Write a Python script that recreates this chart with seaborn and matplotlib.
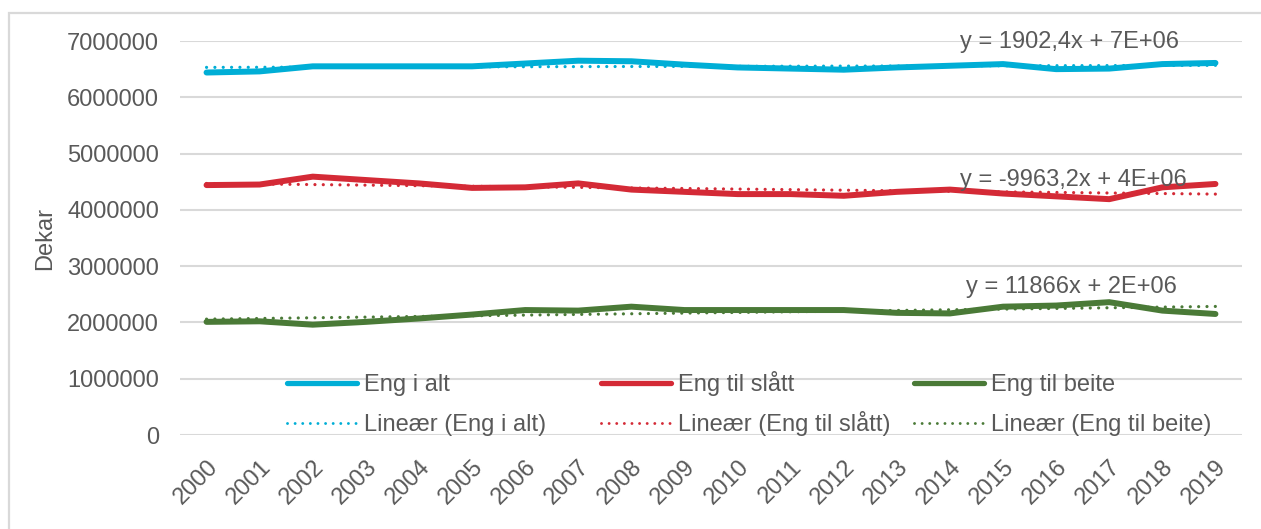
import numpy as np
import pandas as pd
import matplotlib
matplotlib.use("Agg")
import matplotlib.pyplot as plt
from matplotlib.lines import Line2D
from matplotlib.patches import Rectangle
from matplotlib.ticker import FuncFormatter
import seaborn as sns

# ---- data -------------------------------------------------------------
years = [str(y) for y in range(2000, 2020)]
series_names = ["Eng i alt", "Eng til slått", "Eng til beite"]
eng_i_alt = [6440000, 6460000, 6550000, 6550000, 6550000, 6550000, 6600000,
             6650000, 6640000, 6580000, 6530000, 6510000, 6490000, 6530000,
             6560000, 6590000, 6500000, 6510000, 6590000, 6610000]
eng_til_slatt = [4440000, 4450000, 4590000, 4530000, 4470000, 4390000, 4400000,
                 4470000, 4360000, 4320000, 4280000, 4280000, 4250000, 4320000,
                 4360000, 4290000, 4240000, 4190000, 4400000, 4460000]
eng_til_beite = [2010000, 2020000, 1960000, 2010000, 2070000, 2140000, 2220000,
                 2210000, 2280000, 2220000, 2220000, 2220000, 2220000, 2170000,
                 2160000, 2280000, 2300000, 2360000, 2210000, 2150000]
trend_slopes = [1902.4, -9963.2, 11866]
y_ticks = [0, 1000000, 2000000, 3000000, 4000000, 5000000, 6000000, 7000000]

colors = ["#00AED6", "#D42A36", "#4A7A37"]
text_color = "#595959"
grid_color = "#D9D9D9"

# ---- figure -----------------------------------------------------------
sns.set_theme(style="white")
plt.rcParams["font.family"] = ["Liberation Sans", "DejaVu Sans"]
FS = 17

W, H = 1261, 529
fig = plt.figure(figsize=(W / 100, H / 100), dpi=100)
ax = fig.add_axes([180 / W, 1 - 435 / H, (1242 - 180) / W, (435 - 41) / H])

# outer frame
fig.patches.append(Rectangle((9 / W, -0.1), 1.2, (H - 13) / H + 0.1,
                             transform=fig.transFigure, fill=False,
                             edgecolor=grid_color, lw=1.6, zorder=0))

idx = np.arange(len(years))
values = [eng_i_alt, eng_til_slatt, eng_til_beite]
df = pd.DataFrame({
    "idx": np.tile(idx, 3),
    "Dekar": np.concatenate(values),
    "Serie": np.repeat(series_names, len(years)),
})

sns.lineplot(data=df, x="idx", y="Dekar", hue="Serie",
             palette=dict(zip(series_names, colors)), linewidth=4.3,
             solid_capstyle="round", legend=False, ax=ax, zorder=3)

# linear trends (Excel convention: x = 1..n)
dot_style = (0, (0.01, 2.6))
xs = idx + 1
labels_pos = [(14.18, 6980000), (14.18, 4530000), (14.3, 2630000)]
for vals, slope, c, (lx, ly) in zip(values, trend_slopes, colors, labels_pos):
    vals = np.asarray(vals, dtype=float)
    intercept = vals.mean() - slope * xs.mean()
    trend = intercept + slope * xs
    sns.lineplot(x=idx, y=trend, color=c, linewidth=2.3, linestyle=dot_style,
                 dash_capstyle="round", ax=ax, zorder=4)
    eq = f"y = {slope:g}x + {intercept:.0E}".replace(".", ",")
    ax.text(lx, ly, eq, fontsize=FS, color=text_color, ha="left",
            va="center", zorder=5)

# axes styling
ax.set_xlim(-0.5, len(years) - 0.5)
ax.set_ylim(0, 7000000)
ax.set_yticks(y_ticks)
ax.yaxis.set_major_formatter(FuncFormatter(lambda v, p: f"{int(v)}"))
ax.set_xticks(idx)
ax.set_xticklabels(years, rotation=45, ha="right", rotation_mode="anchor")
ax.tick_params(axis="both", length=0, labelsize=FS, labelcolor=text_color)
ax.tick_params(axis="y", pad=15)
ax.tick_params(axis="x", pad=15)
ax.grid(axis="y", color=grid_color, lw=1.5)
ax.grid(axis="x", visible=False)
for s in ax.spines.values():
    s.set_visible(False)
ax.set_xlabel("")
ax.set_ylabel("Dekar", fontsize=FS, color=text_color, labelpad=8)

# legend: two rows (series, trend) by three columns, bottom-aligned entries
legend_x = [287, 601, 914]
row_bottom = [396, 436]
for name, c, lxp in zip(series_names, colors, legend_x):
    entries = [
        (Line2D([], [], color=c, lw=3.8, solid_capstyle="round"), name),
        (Line2D([], [], color=c, lw=2.1, linestyle=dot_style,
                dash_capstyle="round"), f"Lineær ({name})"),
    ]
    for (handle, label), rb in zip(entries, row_bottom):
        fig.legend([handle], [label], loc="lower left",
                   bbox_to_anchor=(lxp / W, 1 - rb / H),
                   bbox_transform=fig.transFigure, frameon=False,
                   borderpad=0, borderaxespad=0, handlelength=2.95,
                   handletextpad=0.3, fontsize=FS, labelcolor=text_color)

fig.savefig("out.png", dpi=100)
